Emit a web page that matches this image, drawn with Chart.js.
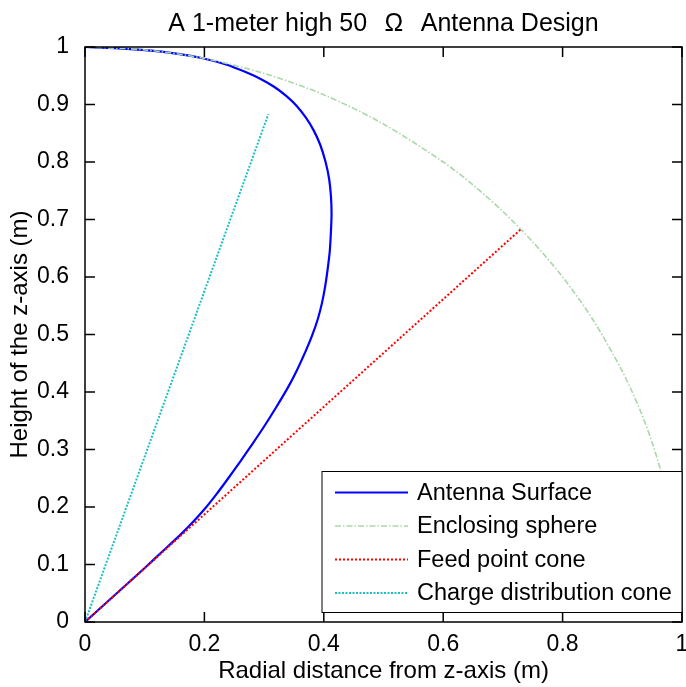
<!DOCTYPE html>
<html>
<head>
<meta charset="utf-8">
<script src="https://cdn.jsdelivr.net/npm/chart.js@4/dist/chart.umd.min.js"></script>
<style>
  html, body { margin: 0; padding: 0; background: #fff; }
  canvas { display: block; }
</style>
</head>
<body>
<canvas id="c" width="686" height="687"></canvas>
<script>
const FONT = "'Liberation Sans', Arial, Helvetica, sans-serif";

const xTicks = [0, 0.2, 0.4, 0.6, 0.8, 1];
const yTicks = [0, 0.1, 0.2, 0.3, 0.4, 0.5, 0.6, 0.7, 0.8, 0.9, 1];

// antenna outline, radial distance r and height z (m), read bottom to top
const antennaR = [0, 0.05, 0.10, 0.13, 0.16, 0.18, 0.20, 0.22, 0.24, 0.26, 0.28, 0.30, 0.32, 0.34, 0.355, 0.37,
  0.38, 0.39, 0.397, 0.402, 0.406, 0.410, 0.412, 0.413, 0.412, 0.409, 0.403, 0.394, 0.383, 0.37, 0.355, 0.338,
  0.318, 0.295, 0.27, 0.235, 0.197, 0.15, 0.10, 0.05, 0];
const antennaZ = [0, 0.047, 0.094, 0.123, 0.152, 0.173, 0.196, 0.222, 0.25, 0.279, 0.309, 0.340, 0.373, 0.408, 0.438, 0.472,
  0.497, 0.527, 0.555, 0.582, 0.61, 0.645, 0.68, 0.71, 0.74, 0.77, 0.80, 0.83, 0.855, 0.877, 0.897, 0.914,
  0.930, 0.944, 0.956, 0.970, 0.9805, 0.989, 0.9945, 0.998, 1];

const sphereR = [0, 0.1, 0.2, 0.3, 0.4, 0.5, 0.6, 0.65, 0.7, 0.75, 0.8, 0.85, 0.9, 0.93, 0.95, 0.97, 0.98, 0.99, 0.995, 1];
const sphereZ = [1, 0.995, 0.98, 0.954, 0.917, 0.866, 0.8, 0.76, 0.714, 0.661, 0.6, 0.527, 0.436, 0.368, 0.312, 0.243, 0.199, 0.141, 0.1, 0];

const feedR = [0, 0.73];
const feedZ = [0, 0.683];
const chargeR = [0, 0.307];
const chargeZ = [0, 0.883];

const pts = (r, z) => r.map((v, i) => ({ x: v, y: z[i] }));

const boxAndTicks = {
  id: 'boxAndTicks',
  afterDatasetsDraw(chart) {
    const { ctx, chartArea: a, scales: { x, y } } = chart;
    ctx.save();
    ctx.strokeStyle = '#000';
    ctx.lineWidth = 1.5;
    ctx.beginPath();
    xTicks.forEach((v) => {
      const px = x.getPixelForValue(v);
      ctx.moveTo(px, a.bottom); ctx.lineTo(px, a.bottom - 10);
      ctx.moveTo(px, a.top); ctx.lineTo(px, a.top + 10);
    });
    yTicks.forEach((v) => {
      const py = y.getPixelForValue(v);
      ctx.moveTo(a.left, py); ctx.lineTo(a.left + 10, py);
      ctx.moveTo(a.right, py); ctx.lineTo(a.right - 10, py);
    });
    ctx.stroke();
    ctx.strokeRect(a.left, a.top, a.right - a.left, a.bottom - a.top);
    ctx.restore();
  },
};

const boxLegend = {
  id: 'boxLegend',
  afterDraw(chart) {
    const { ctx, chartArea: a } = chart;
    const w = 360, h = 141;
    const left = a.right - w, top = a.bottom - 9.5 - h;
    ctx.save();
    ctx.fillStyle = '#fff';
    ctx.fillRect(left, top, w, h);
    ctx.strokeStyle = '#000';
    ctx.lineWidth = 1;
    ctx.strokeRect(left, top, w, h);
    ctx.font = `23.5px ${FONT}`;
    ctx.textBaseline = 'middle';
    chart.data.datasets.forEach((ds, i) => {
      const yy = top + 21 + i * 33.5;
      ctx.beginPath();
      ctx.strokeStyle = ds.borderColor;
      ctx.lineWidth = ds.borderWidth;
      ctx.setLineDash(ds.borderDash || []);
      ctx.moveTo(left + 13, yy);
      ctx.lineTo(left + 86, yy);
      ctx.stroke();
      ctx.setLineDash([]);
      ctx.fillStyle = '#000';
      ctx.fillText(ds.label, left + 95, yy + 1);
    });
    ctx.restore();
  },
};

const plain = (v) => String(Math.round(v * 10) / 10);

new Chart(document.getElementById('c'), {
  type: 'scatter',
  data: {
    datasets: [
      {
        label: 'Antenna Surface',
        data: pts(antennaR, antennaZ),
        borderColor: '#0000ff',
        borderWidth: 2.2,
        tension: 0.2,
        order: 4,
      },
      {
        label: 'Enclosing sphere',
        data: pts(sphereR, sphereZ),
        borderColor: '#a9d8a9',
        borderWidth: 1.6,
        borderDash: [6, 2, 1.5, 2],
        tension: 0.3,
        order: 3,
      },
      {
        label: 'Feed point cone',
        data: pts(feedR, feedZ),
        borderColor: '#ff0000',
        borderWidth: 2,
        borderDash: [2, 2],
        order: 2,
      },
      {
        label: 'Charge distribution cone',
        data: pts(chargeR, chargeZ),
        borderColor: '#1fbfbf',
        borderWidth: 2,
        borderDash: [2, 1.5],
        order: 1,
      },
    ],
  },
  options: {
    responsive: false,
    animation: false,
    showLine: true,
    elements: { point: { radius: 0, hoverRadius: 0 } },
    layout: { padding: { top: 0, right: 4, left: 0, bottom: 0 } },
    plugins: {
      legend: { display: false },
      tooltip: { enabled: false },
      title: {
        display: true,
        fullSize: false,
        text: 'A 1-meter high 50\u2002\u2009\u03A9\u2002\u2009Antenna Design',
        color: '#000',
        font: { family: FONT, size: 25, weight: 'normal' },
        padding: { top: 9, bottom: 8 },
      },
    },
    scales: {
      x: {
        type: 'linear',
        min: 0,
        max: 1,
        afterBuildTicks: (s) => { s.ticks = xTicks.map((v) => ({ value: v })); },
        afterFit: (s) => { s.height = 65; s.paddingRight = 0; s.paddingLeft = 0; },
        ticks: { color: '#000', padding: 1, maxRotation: 0, callback: plain, font: { family: FONT, size: 23 } },
        grid: { display: false },
        border: { display: false },
        title: {
          display: true,
          text: 'Radial distance from z-axis (m)',
          color: '#000',
          font: { family: FONT, size: 24 },
          padding: { top: 0, bottom: 1 },
        },
      },
      y: {
        type: 'linear',
        min: 0,
        max: 1,
        afterBuildTicks: (s) => { s.ticks = yTicks.map((v) => ({ value: v })); },
        afterFit: (s) => { s.width = 85; s.paddingTop = 0; s.paddingBottom = 0; },
        ticks: { color: '#000', padding: 8, callback: plain, font: { family: FONT, size: 23 } },
        grid: { display: false },
        border: { display: false },
        title: {
          display: true,
          text: 'Height of the z-axis (m)',
          color: '#000',
          font: { family: FONT, size: 24 },
          padding: { top: 6, bottom: 0 },
        },
      },
    },
  },
  plugins: [boxAndTicks, boxLegend],
});
</script>
</body>
</html>
